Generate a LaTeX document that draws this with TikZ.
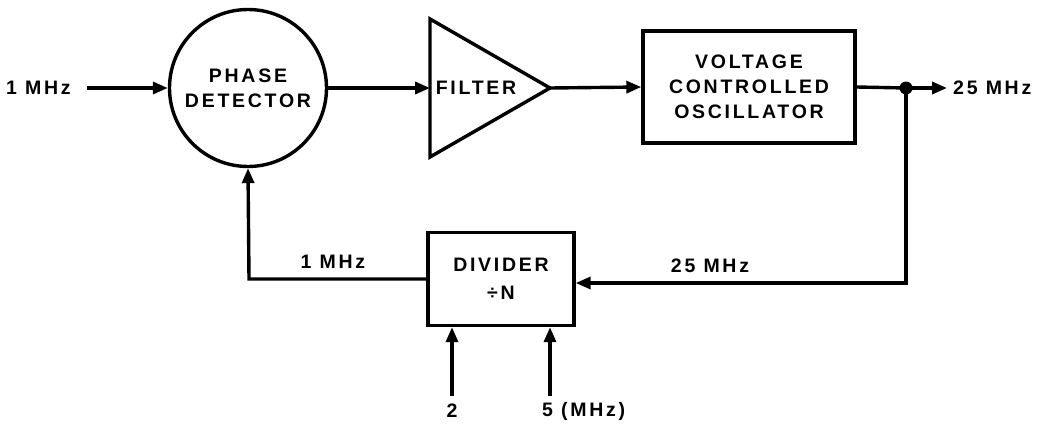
\documentclass[tikz,border=0pt]{standalone}
\usepackage{fontspec}
\setmainfont{Liberation Sans}[LetterSpace=14]
\usetikzlibrary{arrows.meta}
\begin{document}
\begin{tikzpicture}[x=1pt,y=-1pt,
  every node/.style={font=\fontsize{19.5}{25}\selectfont\bfseries, inner sep=0pt, align=center},
  blk/.style={draw, line width=3.4pt, rectangle},
  wire/.style={line width=3.4pt},
  arr/.style={wire, -{Triangle[length=15pt,width=12pt]}}
]
\useasboundingbox (0,0) rectangle (1060,428);
% blocks
\node[draw, line width=3.4pt, circle, minimum size=157pt] (pd) at (248,88) {PHASE\\DETECTOR};
\coordinate (fin) at (430,88);
\coordinate (fout) at (550,88);
\draw[line width=3.4pt, line join=miter] (430,19) -- (fout) -- (430,157) -- cycle;
\node (ftxt) at (476,88) {FILTER};
\node[blk, minimum width=212pt, minimum height=112pt] (vco) at (749,87) {VOLTAGE\\CONTROLLED\\OSCILLATOR};
\node[blk, minimum width=146pt, minimum height=93pt] (div) at (501,279) {DIVIDER\\[3pt]÷N};
% labels
\node[anchor=west] (lin) at (6,88) {1 MHz};
\node[anchor=west] (lout) at (953,88) {25 MHz};
\node (l1) at (333,262) {1 MHz};
\node (l25) at (710,266) {25 MHz};
\node (l2) at (452,411) {2};
\node[anchor=west] (l5) at (542,411) {5 (MHz)};
% coordinates
\coordinate (dot) at (906,88);
\coordinate (ain) at (87,88);
\coordinate (aout) at (947,88);
\coordinate (fbr) at (906,283);
\coordinate (fbl) at (249,279);
\coordinate (in2) at (452,396);
\coordinate (in5) at (550,396);
% connectors
\draw[arr] (ain) -- (pd.west);
\draw[arr] (pd.east) -- (fin);
\draw[arr] (fout) -- (vco.west);
\draw[wire] (vco.east) -- (dot);
\draw[arr] (dot) -- (aout);
\fill (dot) circle (6.5pt);
\draw[arr, line join=miter] (dot) -- (fbr) -- (div.east |- fbr);
\draw[arr, line join=miter] (div.west |- fbl) -- (fbl) -- (pd.south);
\draw[arr] (in2) -- (in2 |- div.south);
\draw[arr] (in5) -- (in5 |- div.south);
\end{tikzpicture}
\end{document}
